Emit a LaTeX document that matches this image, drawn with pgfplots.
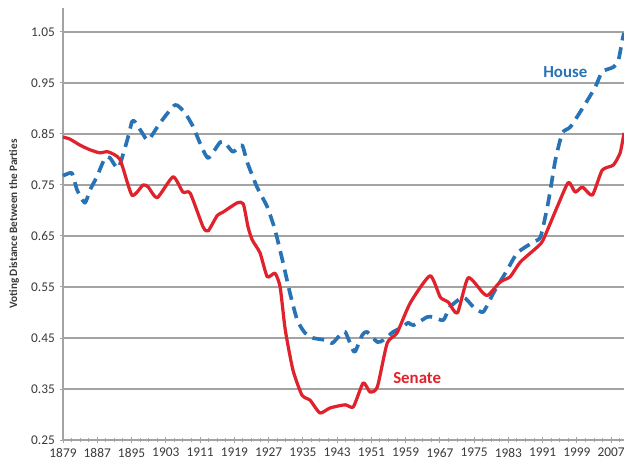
\documentclass[border=0pt]{standalone}
\usepackage{fontspec}
\setmainfont{Carlito}
\usepackage{pgfplots}
\pgfplotsset{compat=1.18}
\definecolor{senred}{HTML}{E0222C}
\definecolor{houblue}{HTML}{2872B6}
\definecolor{gridgray}{HTML}{A3A3A3}
\definecolor{txtgray}{HTML}{3A3A3A}
\begin{document}
\begin{tikzpicture}
\begin{axis}[
  scale only axis, width=14.025cm, height=10.8cm,
  xmin=1879, xmax=2010, ymin=0.25, ymax=1.097,
  axis lines=left, axis line style={-, draw=gridgray, line width=0.9pt},
  xtick={1879,1887,...,2007}, minor xtick={1879,1881,...,2009},
  ytick={0.25,0.35,...,1.06},
  tick align=center, major tick length=0.16cm, minor tick length=0.09cm,
  tick style={draw=gridgray, line width=0.7pt},
  ymajorgrids, grid style={draw=gridgray, line width=0.9pt},
  tick label style={font=\fontsize{9.5}{11}\selectfont, text=txtgray, /pgf/number format/assume math mode=true},
  xticklabel style={/pgf/number format/1000 sep={}},
  yticklabel style={/pgf/number format/fixed, /pgf/number format/fixed zerofill, /pgf/number format/precision=2},
  ylabel={Voting Distance Between the Parties},
  ylabel style={at={(axis description cs:-0.0873,0.5)}, anchor=center, font=\fontsize{8}{9}\selectfont\bfseries, text=txtgray},
  clip=false,
]
% House
\addplot[color=houblue, line width=2.6pt, dash pattern=on 8.5pt off 5pt, line join=round, smooth, tension=0.35] coordinates {
(1879,0.768) (1879.5,0.770) (1881.1,0.773) (1882.3,0.740) (1884.1,0.715) (1885.3,0.740) (1886.9,0.766)
(1888.8,0.803) (1890.0,0.803) (1891.9,0.783) (1894.0,0.838) (1895.1,0.874) (1895.8,0.874) (1897.5,0.852)
(1898.9,0.838) (1901.7,0.872) (1905.2,0.907) (1907.5,0.891) (1909.4,0.864) (1911.0,0.832) (1912.9,0.803)
(1915.7,0.834) (1916.9,0.832) (1918.7,0.815) (1920.8,0.828) (1922.0,0.795) (1924.3,0.746) (1926.7,0.707)
(1928.5,0.662) (1930.4,0.597) (1932.0,0.538) (1933.7,0.485) (1935.5,0.460) (1937.4,0.450) (1940.2,0.446)
(1941.9,0.440) (1943.7,0.456) (1944.9,0.462) (1946.5,0.430) (1947.2,0.423) (1948.9,0.456) (1950.0,0.462)
(1952.4,0.442) (1953.8,0.446) (1956.1,0.462) (1958.4,0.472) (1959.6,0.480) (1960.8,0.475) (1964.0,0.491)
(1965.4,0.491) (1967.8,0.485) (1969.4,0.511) (1972.5,0.530) (1974.8,0.511) (1977.1,0.501) (1979.5,0.538)
(1982.7,0.583) (1985.1,0.617) (1988.8,0.638) (1990.5,0.648) (1992.1,0.707) (1993.0,0.750) (1994.0,0.800)
(1995.6,0.852) (1997.5,0.864) (2000.5,0.903) (2003.3,0.942) (2004.9,0.972) (2007.5,0.981) (2008.7,0.995)
(2009.6,1.034) (2010.0,1.048)};
% Senate
\addplot[color=senred, line width=2.3pt, line join=round, smooth, tension=0.35] coordinates {
(1879,0.844) (1880.6,0.840) (1883.0,0.828) (1885.3,0.819) (1887.6,0.813) (1889.5,0.815) (1892.3,0.800)
(1895.1,0.730) (1897.7,0.750) (1898.9,0.746) (1901.0,0.725) (1904.7,0.766) (1907.0,0.736) (1908.7,0.734)
(1911.7,0.668) (1912.9,0.660) (1915.0,0.690) (1916.4,0.697) (1919.7,0.715) (1921.1,0.713) (1922.2,0.668)
(1923.2,0.642) (1925.0,0.617) (1926.7,0.570) (1928.5,0.577) (1929.7,0.550) (1930.9,0.466) (1932.7,0.387)
(1934.8,0.338) (1936.7,0.328) (1939.0,0.303) (1941.4,0.313) (1944.9,0.319) (1946.8,0.315) (1949.1,0.362)
(1950.7,0.344) (1952.4,0.354) (1954.7,0.440) (1957.0,0.460) (1960.1,0.519) (1964.7,0.572) (1967.1,0.530)
(1969.0,0.520) (1971.1,0.499) (1973.6,0.568) (1977.1,0.538) (1978.3,0.534) (1981.1,0.560) (1983.4,0.570)
(1985.8,0.599) (1989.7,0.628) (1991.1,0.642) (1994.4,0.707) (1997.0,0.755) (1998.6,0.736) (2000.3,0.746)
(2002.6,0.730) (2004.9,0.779) (2007.5,0.789) (2009.1,0.813) (2010.0,0.852)};
\node[font=\fontsize{12}{14}\selectfont\bfseries, text=houblue] at (axis cs:1996.3,0.972) {House};
\node[font=\fontsize{12}{14}\selectfont\bfseries, text=senred] at (axis cs:1961.7,0.372) {Senate};
\end{axis}
\pgfresetboundingbox
\path ([shift={(-1.575cm,-0.7cm)}]current axis.south west) rectangle ([shift={(0cm,0.2cm)}]current axis.north east);
\end{tikzpicture}
\end{document}
